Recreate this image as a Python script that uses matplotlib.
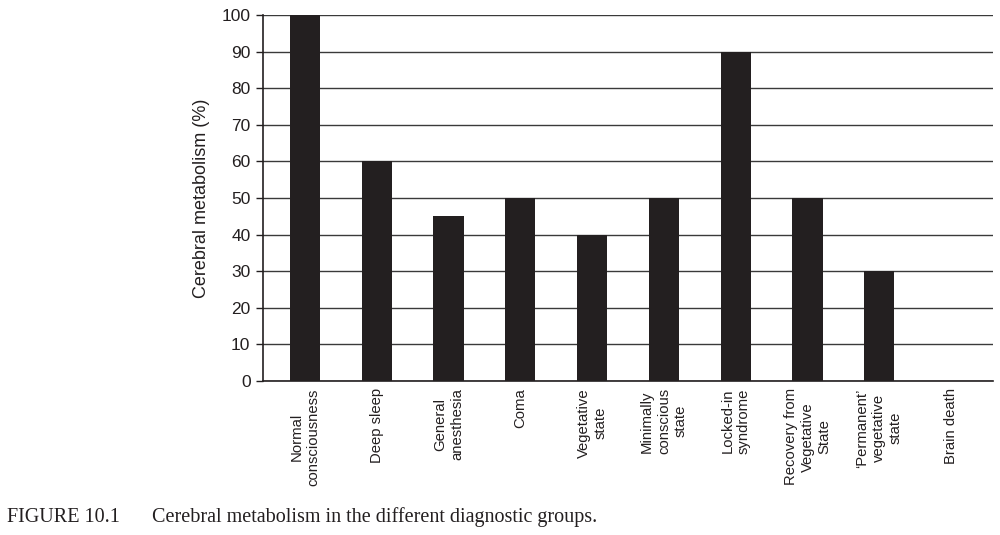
import matplotlib.pyplot as plt

categories = [
    "Normal\nconsciousness",
    "Deep sleep",
    "General\nanesthesia",
    "Coma",
    "Vegetative\nstate",
    "Minimally\nconscious\nstate",
    "Locked-in\nsyndrome",
    "Recovery from\nVegetative\nState",
    "\u2018Permanent\u2019\nvegetative\nstate",
    "Brain death",
]
metabolism = [100, 60, 45, 50, 40, 50, 90, 50, 30, 0]
y_ticks = list(range(0, 101, 10))

INK = "#231f20"

plt.rcParams["font.family"] = ["Liberation Sans", "DejaVu Sans"]

fig = plt.figure(figsize=(10, 5.35), dpi=100)
ax = fig.add_axes([0.263, 0.288, 0.730, 0.684])

x = list(range(len(categories)))
ax.bar(x, metabolism, width=0.42, color=INK, zorder=3)

ax.set_ylim(0, 100)
ax.set_xlim(-0.585, len(categories) - 0.415)
ax.set_yticks(y_ticks)
ax.yaxis.grid(True, color="#3a3a3a", linewidth=1.0, zorder=0)
ax.tick_params(axis="y", labelsize=12.5, colors=INK, length=5, width=1.0, pad=4)
ax.set_xticks([])

# category labels, rotated and hanging below the axis
for xi, label in zip(x, categories):
    ax.text(xi, -2, label, rotation=90, ha="center", va="top",
            multialignment="center", fontsize=10.7, color=INK,
            linespacing=1.25)

ax.set_ylabel("Cerebral metabolism (%)", fontsize=13, color=INK, labelpad=8)

for side in ["top", "right"]:
    ax.spines[side].set_visible(False)
for side in ["left", "bottom"]:
    ax.spines[side].set_color(INK)
    ax.spines[side].set_linewidth(1.2)

serif = ["Liberation Serif", "DejaVu Serif"]
fig.text(0.007, 0.024, "FIGURE 10.1", family=serif, fontsize=14.5,
         color=INK, ha="left", va="baseline")
fig.text(0.152, 0.024, "Cerebral metabolism in the different diagnostic groups.",
         family=serif, fontsize=14.5, color=INK, ha="left", va="baseline")

fig.savefig("out.png", dpi=100)
